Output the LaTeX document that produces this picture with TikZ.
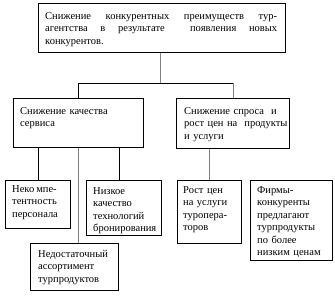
\documentclass[tikz,border=0pt]{standalone}
\usepackage{fontspec}
\setmainfont{Liberation Serif}
\begin{document}
\begin{tikzpicture}[x=1pt,y=-1pt,
  box/.style={draw, line width=0.8pt, anchor=north west, inner sep=0pt},
  txt/.style={anchor=north west, inner sep=0pt, align=left, font=\fontsize{10.5}{12.5}\selectfont},
  conn/.style={line width=0.8pt, draw=black},
  gconn/.style={line width=0.8pt, draw=gray}]
\useasboundingbox (0,0) rectangle (335,295);
% boxes
\node[box, minimum width=247pt, minimum height=49pt] (top) at (38,3) {};
\node[box, minimum width=130pt, minimum height=49pt] (midL) at (13,98) {};
\node[box, minimum width=113pt, minimum height=50pt] (midR) at (176,98) {};
\node[box, minimum width=65pt, minimum height=48pt] (b1) at (5,180) {};
\node[box, minimum width=75pt, minimum height=55pt] (b2) at (86,180) {};
\node[box, minimum width=88pt, minimum height=47pt] (b3) at (30,243) {};
\node[box, minimum width=64pt, minimum height=63pt] (b4) at (177,180) {};
\node[box, minimum width=82pt, minimum height=80pt] (b5) at (250,180) {};
% texts
\node[txt, text width=232pt] (ttop) at (45,12) {%
\makebox[232pt][s]{Снижение\hfill конкурентных\hfill преимуществ\hfill тур-}\\
\makebox[232pt][s]{агентства\hfill в\hfill результате\hfill\hfill появления\hfill новых}\\
конкурентов.};
\node[txt, text width=120pt] (tmidL) at (20,107) {Снижение качества\\сервиса};
\node[txt, text width=110pt] (tmidR) at (184,107) {Снижение спроса\ \ и\\рост цен на\ \ продукты\\и услуги};
\node[txt, text width=60pt] (tb1) at (12,185) {Неко\hspace{2pt}мпе-\\тентность\\персонала};
\node[txt, text width=70pt] (tb2) at (93,187) {Низкое\\качество\\технологий\\бронирования};
\node[txt, text width=85pt] (tb3) at (38,250) {Недостаточный\\ассортимент\\турпродуктов};
\node[txt, text width=60pt] (tb4) at (183,186) {Рост цен\\на услуги\\туропера-\\торов};
\node[txt, text width=80pt] (tb5) at (257,186) {Фирмы-\\конкуренты\\предлагают\\турпродукты\\по более\\низким ценам};
% connectors
\coordinate (jm) at (160,83);
\draw[gconn] (top.south -| jm) -- (jm);
\draw[conn] (midL.north) -- (midL.north |- jm) -- (midR.north |- jm);
\draw[gconn] (midR.north |- jm) -- (midR.north);
\draw[conn] (b1.north) -- (b1.north |- midL.south);
\coordinate (c2) at (119,180);
\draw[conn] (c2 |- midL.south) -- (c2);
\draw[gconn] (midL.south) -- (midL.south |- b3.north);
\draw[gconn] (b4.north) -- (b4.north |- midR.south);
\end{tikzpicture}
\end{document}
